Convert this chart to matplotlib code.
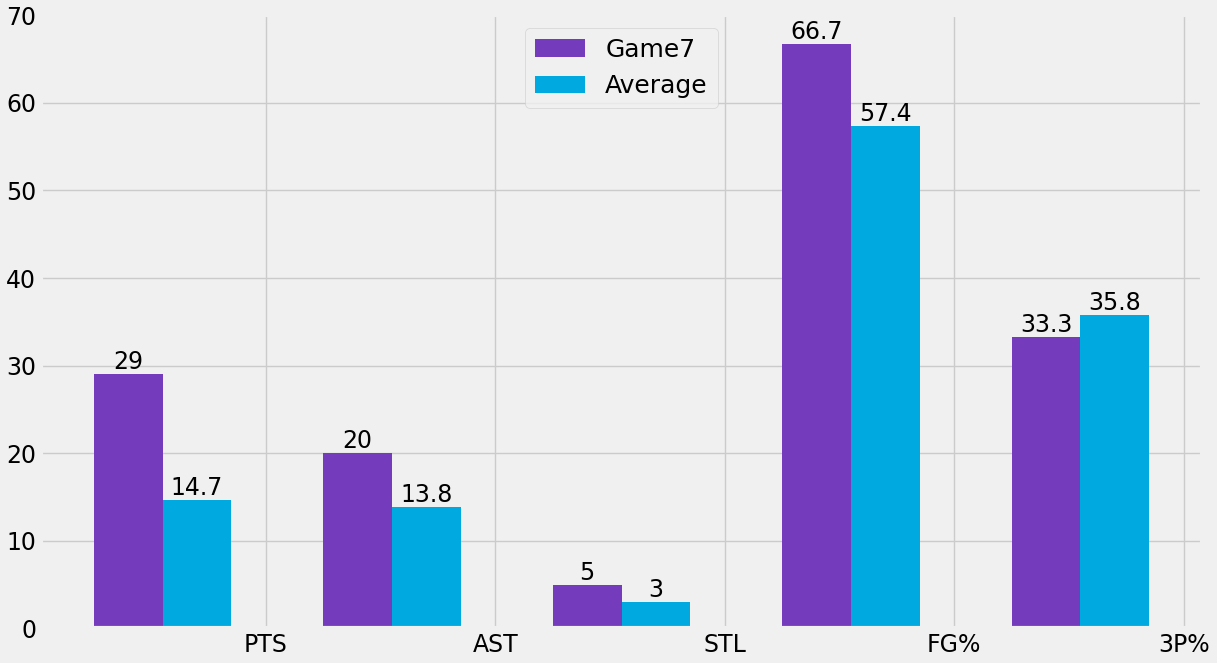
import numpy as np
import matplotlib
matplotlib.use('Agg')
import matplotlib.pyplot as plt

plt.style.use('fivethirtyeight')

stats = ['PTS', 'AST', 'STL', 'FG%', '3P%']
game7 = [29, 20, 5, 66.7, 33.3]
average = [14.7, 13.8, 3, 57.4, 35.8]

x = np.arange(len(stats))
width = 0.3

fig, ax = plt.subplots(figsize=(12.17, 6.63), dpi=100)
fig.patch.set_facecolor('#f0f0f0')

b1 = ax.bar(x - 2 * width, game7, width, color='#753bbd', label='Game7')
b2 = ax.bar(x - width, average, width, color='#00a9e0', label='Average')

# value labels on top of each bar
ax.bar_label(b1, labels=[f'{v:g}' for v in game7], fontsize=17, padding=0)
ax.bar_label(b2, labels=[f'{v:g}' for v in average], fontsize=17, padding=0)

ax.set_xticks(x)
ax.set_xticklabels(stats, fontsize=17)
ax.tick_params(axis='y', labelsize=17)
ax.set_ylim(0, 70)
ax.legend(loc='upper center', fontsize=18)

plt.tight_layout(pad=0.3)
plt.savefig('out.png', dpi=100)
